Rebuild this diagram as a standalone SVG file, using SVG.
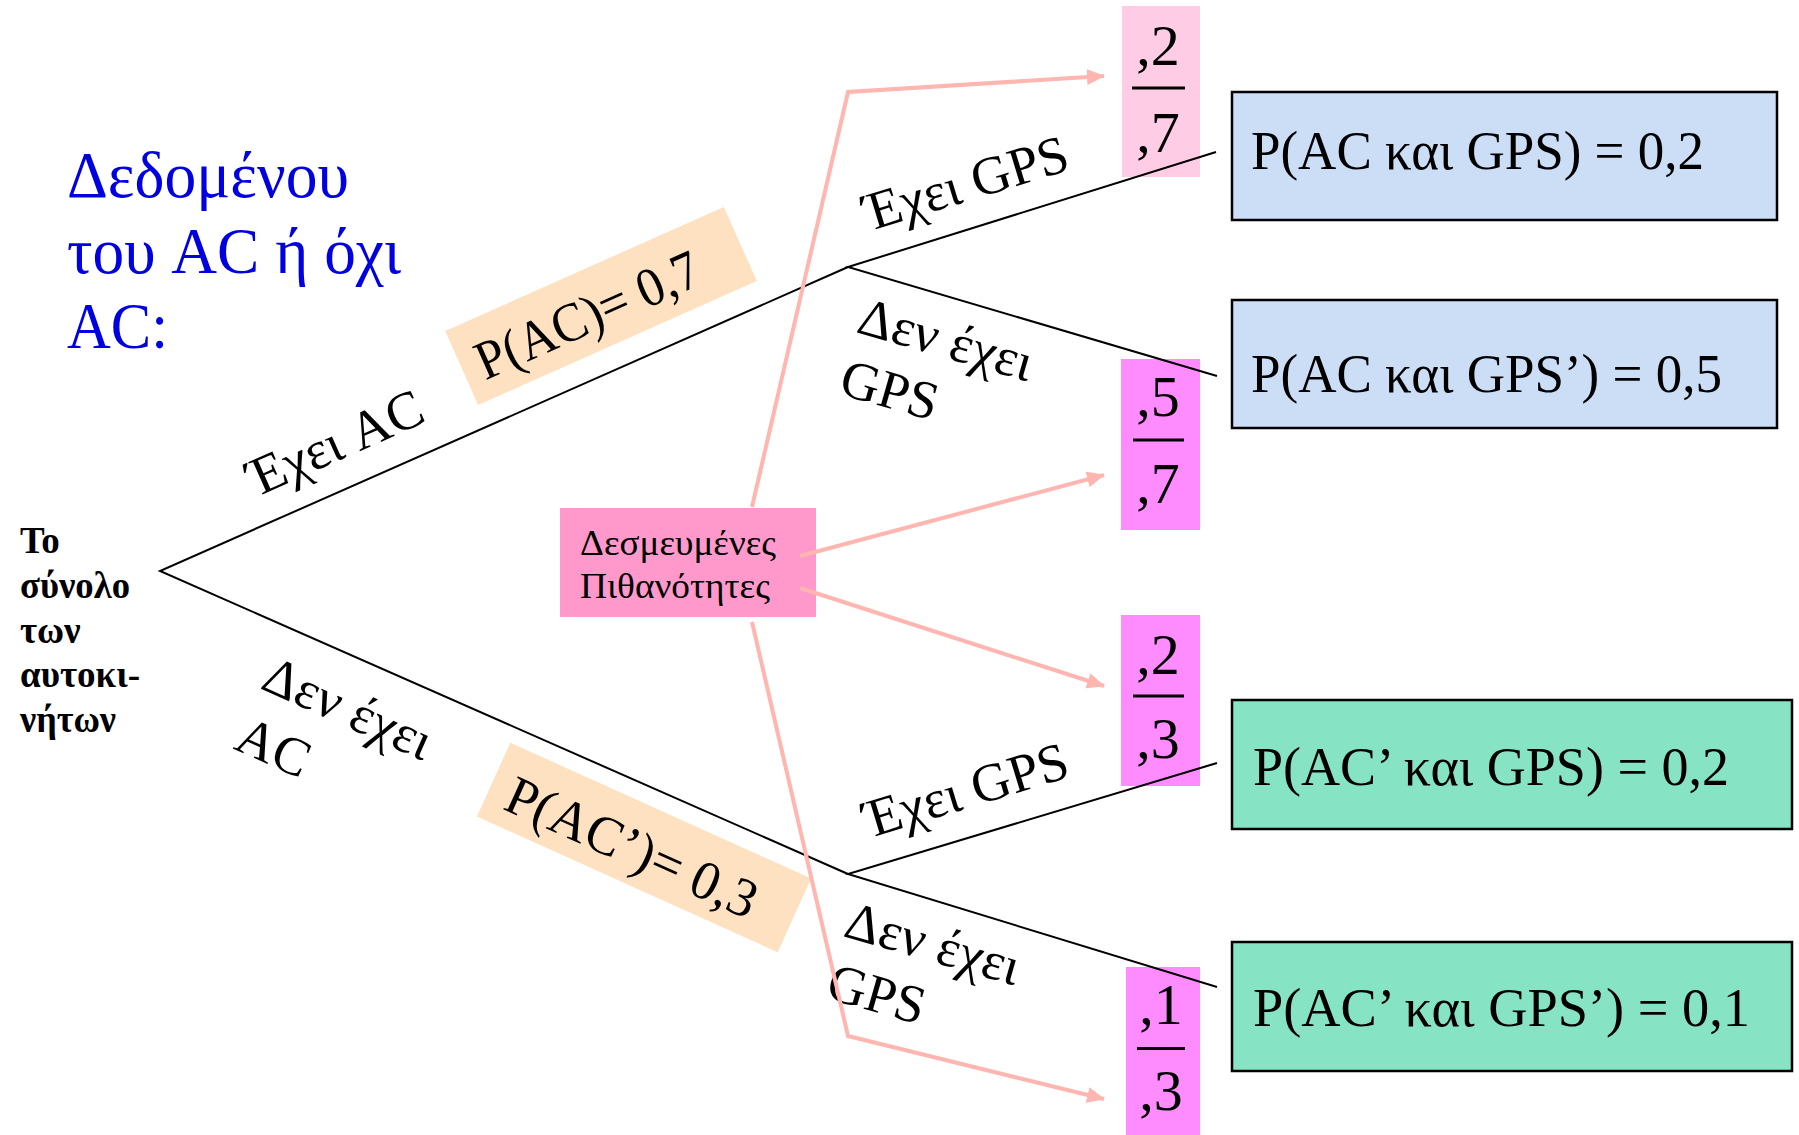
<svg xmlns="http://www.w3.org/2000/svg" width="1799" height="1135" viewBox="0 0 1799 1135">
<style>
text { font-family: "Liberation Serif", "Times New Roman", serif; fill: #000; }
.title { font-size: 66px; fill: #0000E0; }
.root { font-size: 37px; font-weight: bold; }
.lbl { font-size: 54px; }
.prob { font-size: 55px; }
.res { font-size: 54px; }
.frac { font-size: 58px; text-anchor: middle; }
.cond { font-size: 36px; }
.tree { stroke: #000; stroke-width: 2; fill: none; }
.arrow { stroke: #FFB5B0; stroke-width: 4; fill: none; }
.peach { fill: #FDE1C0; }
.blue { fill: #CCDDF6; stroke: #000; stroke-width: 2.5; }
.green { fill: #86E3C3; stroke: #000; stroke-width: 2.5; }
.mag { fill: #FF8CFF; }
.fl { stroke: #000; stroke-width: 3; }
</style>
<defs>
<marker id="ah" markerUnits="userSpaceOnUse" markerWidth="18" markerHeight="16" viewBox="0 0 18 16" refX="17" refY="8" orient="auto">
<path d="M0,0 L18,8 L0,16 z" fill="#FFB5B0"/>
</marker>
</defs>
<rect x="0" y="0" width="1799" height="1135" fill="#fff"/>

<g id="title">
<text class="title" x="67" y="197" textLength="282" lengthAdjust="spacingAndGlyphs">Δεδομένου</text>
<text class="title" x="67" y="273" textLength="334" lengthAdjust="spacingAndGlyphs">του AC ή όχι</text>
<text class="title" x="67" y="348" textLength="101" lengthAdjust="spacingAndGlyphs">AC:</text>
</g>

<g id="root">
<text class="root" x="20" y="553">Το</text>
<text class="root" x="20" y="598" textLength="110" lengthAdjust="spacingAndGlyphs">σύνολο</text>
<text class="root" x="20" y="643">των</text>
<text class="root" x="20" y="687" textLength="120" lengthAdjust="spacingAndGlyphs">αυτοκι-</text>
<text class="root" x="20" y="732" textLength="96" lengthAdjust="spacingAndGlyphs">νήτων</text>
</g>

<g id="branch-ac">
<text class="lbl" transform="translate(257,497) rotate(-24)">Έχει AC</text>
<g transform="translate(601,306) rotate(-24)">
<rect class="peach" x="-152.5" y="-40.5" width="305" height="81"/>
<text class="prob" x="-136" y="21" textLength="240" lengthAdjust="spacingAndGlyphs">P(AC)= 0,7</text>
</g>
</g>

<g id="branch-noac">
<text class="lbl" transform="translate(259,688) rotate(24)"><tspan x="0" y="0">Δεν έχει</tspan><tspan x="0" y="66">AC</tspan></text>
<g transform="translate(644,847.5) rotate(24.3)">
<rect class="peach" x="-165" y="-40.5" width="330" height="81"/>
<text class="prob" x="-146" y="23" textLength="270" lengthAdjust="spacingAndGlyphs">P(AC’)= 0,3</text>
</g>
</g>

<g id="label-ac-gps">
<text class="lbl" transform="translate(870,231) rotate(-17)">Έχει GPS</text>
</g>
<g id="label-ac-nogps">
<text class="lbl" transform="translate(855,332) rotate(16)"><tspan x="0" y="0">Δεν έχει</tspan><tspan x="0" y="64">GPS</tspan></text>
</g>
<g id="label-noac-gps">
<text class="lbl" transform="translate(870,838) rotate(-17)">Έχει GPS</text>
</g>
<g id="label-noac-nogps">
<text class="lbl" transform="translate(842,936) rotate(16)"><tspan x="0" y="0">Δεν έχει</tspan><tspan x="0" y="64">GPS</tspan></text>
</g>

<g id="frac1">
<rect x="1122" y="6" width="78" height="171" fill="#FFCCE6"/>
<text class="frac" x="1158" y="65">,2</text>
<line class="fl" x1="1132" y1="88" x2="1185" y2="88"/>
<text class="frac" x="1158" y="152">,7</text>
</g>
<g id="frac2">
<rect class="mag" x="1121" y="359" width="79" height="171"/>
<text class="frac" x="1158" y="416">,5</text>
<line class="fl" x1="1133" y1="440" x2="1184" y2="440"/>
<text class="frac" x="1158" y="503">,7</text>
</g>
<g id="frac3">
<rect class="mag" x="1121" y="615" width="79" height="171"/>
<text class="frac" x="1158" y="674">,2</text>
<line class="fl" x1="1133" y1="696" x2="1184" y2="696"/>
<text class="frac" x="1158" y="758">,3</text>
</g>
<g id="frac4">
<rect class="mag" x="1126" y="967" width="74" height="171"/>
<text class="frac" x="1161" y="1024">,1</text>
<line class="fl" x1="1137" y1="1048.5" x2="1185" y2="1048.5"/>
<text class="frac" x="1161" y="1110">,3</text>
</g>

<g id="res-ac-gps">
<rect class="blue" x="1232" y="92" width="545" height="128"/>
<text class="res" x="1251" y="169" textLength="453" lengthAdjust="spacingAndGlyphs">P(AC και GPS) = 0,2</text>
</g>
<g id="res-ac-nogps">
<rect class="blue" x="1232" y="300" width="545" height="128"/>
<text class="res" x="1251" y="392" textLength="471" lengthAdjust="spacingAndGlyphs">P(AC και GPS’) = 0,5</text>
</g>
<g id="res-noac-gps">
<rect class="green" x="1232" y="700" width="560" height="129"/>
<text class="res" x="1253" y="785" textLength="476" lengthAdjust="spacingAndGlyphs">P(AC’ και GPS) = 0,2</text>
</g>
<g id="res-noac-nogps">
<rect class="green" x="1232" y="942" width="560" height="129"/>
<text class="res" x="1253" y="1026" textLength="497" lengthAdjust="spacingAndGlyphs">P(AC’ και GPS’) = 0,1</text>
</g>

<g id="conditional">
<rect x="560" y="508" width="256" height="109" fill="#FF99CC"/>
<text class="cond" x="580" y="555" textLength="196" lengthAdjust="spacingAndGlyphs">Δεσμευμένες</text>
<text class="cond" x="580" y="598" textLength="190" lengthAdjust="spacingAndGlyphs">Πιθανότητες</text>
</g>

<g id="connectors">
<polyline class="tree" points="848,267 160,571 848,874"/>
<polyline class="tree" points="1216,152 848,267 1217,376"/>
<polyline class="tree" points="1217,763 848,874 1217,987"/>
<polyline class="arrow" points="752,507 848,92 1104,76" marker-end="url(#ah)"/>
<line class="arrow" x1="800" y1="556" x2="1104" y2="475" marker-end="url(#ah)"/>
<line class="arrow" x1="800" y1="588" x2="1104" y2="686" marker-end="url(#ah)"/>
<polyline class="arrow" points="752,622 848,1036 1104,1099" marker-end="url(#ah)"/>
</g>
</svg>
